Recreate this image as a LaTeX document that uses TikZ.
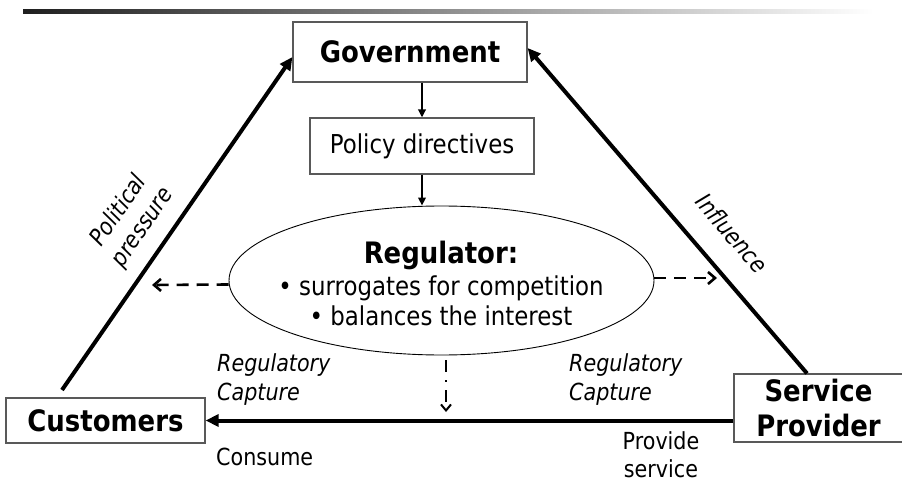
\documentclass[tikz,border=0pt]{standalone}
\usepackage{fontspec}
\setmainfont{DejaVu Sans}[FakeStretch=0.88]
\usetikzlibrary{arrows.meta,shapes.geometric}
\tikzset{
  box/.style={draw=black!65, line width=1.2pt, inner sep=0pt},
  boldtxt/.style={font=\fontsize{29.5}{35}\selectfont\bfseries, align=center},
  normtxt/.style={font=\fontsize{26}{30}\selectfont, align=center},
  lbl/.style={font=\fontsize{23.5}{28}\selectfont, align=left, inner sep=0pt},
  ilbl/.style={font=\fontsize{23.5}{29}\selectfont\itshape, align=left, inner sep=0pt},
  mainarrow/.style={line width=4pt, -{Triangle[length=13pt,width=12pt]}},
  thinarrow/.style={line width=2.2pt, -{Triangle[length=8pt,width=7.5pt]}},
  dasharrow/.style={line width=2.6pt, dash pattern=on 12pt off 8pt, -{Straight Barb[length=7pt,width=12pt]}},
  dotarrow/.style={line width=2pt, dash pattern=on 12pt off 8pt on 2pt off 8pt, -{Straight Barb[length=6pt,width=10pt]}}
}
\begin{document}
\begin{tikzpicture}[x=1pt,y=-1pt]
\useasboundingbox (0,0) rectangle (902,481);
\shade[left color=black!88, right color=white] (23,10) rectangle (873,14);

\node[box, minimum width=234pt, minimum height=60pt, boldtxt] (gov) at (410,52) {Government};
\node[box, minimum width=224pt, minimum height=56pt, normtxt] (pol) at (422,146) {Policy directives};
\node[draw, line width=0.9pt, ellipse, minimum width=425pt, minimum height=149pt, inner sep=0pt] (reg) at (441.5,280.5) {};
\node[normtxt, inner sep=0pt] (regtext) at (441,283) {{\fontsize{29.5}{33}\selectfont\bfseries Regulator:}\\[2pt] • surrogates for competition\\ • balances the interest};
\node[box, minimum width=199pt, minimum height=45pt, boldtxt] (cust) at (105.5,420.5) {Customers};
\node[box, minimum width=169pt, minimum height=68pt, boldtxt] (sp) at (818.5,408) {Service\\Provider};

\coordinate (cstart) at (62,390);
\coordinate (lend) at (152,285);
\coordinate (rend) at (717,278);
\coordinate (dstart) at (446,360);
\coordinate (dend) at (446,412);

\draw[mainarrow] (cstart) -- ([yshift=-5pt]gov.west);
\draw[mainarrow] ([xshift=-11.5pt]sp.north) -- ([yshift=4pt]gov.east);
\draw[thinarrow] (gov.south -| pol.north) -- (pol.north);
\draw[thinarrow] (pol.south) -- (pol.south |- reg.north);
\draw[dasharrow] ([yshift=-4pt]reg.west) -- (lend);
\draw[dasharrow] ([yshift=2.5pt]reg.east) -- (rend);
\draw[dotarrow] (dstart) -- (dend);
\draw[mainarrow] (cust.east -| sp.west) -- (cust.east);

\node[ilbl, align=center, rotate=55.3] (pp) at (131,219) {Political\\pressure};
\node[ilbl, rotate=-49.3] (inf) at (732,233) {Influence};
\node[ilbl, anchor=west] (rc1) at (217,379.5) {Regulatory\\Capture};
\node[ilbl, anchor=west] (rc2) at (569,379.5) {Regulatory\\Capture};
\node[lbl, anchor=west] (cons) at (216,457) {Consume};
\node[lbl, align=center] (prov) at (661,455) {Provide\\service};
\end{tikzpicture}
\end{document}
